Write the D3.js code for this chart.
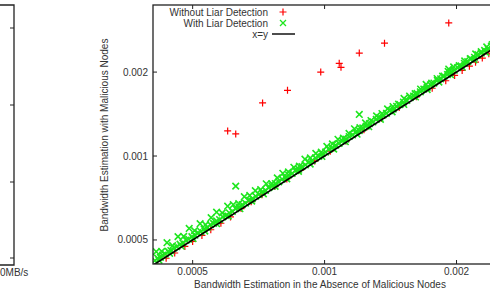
<!DOCTYPE html>
<html>
<head>
<meta charset="utf-8">
<script src="https://cdnjs.cloudflare.com/ajax/libs/d3/7.8.5/d3.min.js"></script>
<style>
  body { margin: 0; background: #fff; }
  svg { display: block; font-family: "Liberation Sans", Arial, sans-serif; }
</style>
</head>
<body>
<div id="chart"></div>
<script>
// ticks
var xTicks = [0.0005, 0.001, 0.002];
var yTicks = [0.0005, 0.001, 0.002];
var xTickLabels = ['0.0005', '0.001', '0.002'];
var yTickLabels = ['0.0005', '0.001', '0.002'];

// "Without Liar Detection" (red +)
var redX = [4.15e-4, 4.35e-4, 4.55e-4, 4.80e-4, 5.00e-4, 5.25e-4, 5.50e-4, 5.80e-4, 6.10e-4, 6.45e-4, 6.80e-4,
            7.20e-4, 7.70e-4, 8.20e-4, 8.80e-4, 9.50e-4, 10.30e-4, 11.20e-4, 12.30e-4, 13.50e-4, 14.80e-4,
            16.20e-4, 17.60e-4, 18.90e-4, 19.80e-4, 20.60e-4, 21.40e-4, 22.10e-4, 22.90e-4, 23.70e-4, 24.40e-4,
            6.01e-4, 6.27e-4, 7.22e-4, 8.23e-4, 9.80e-4, 10.8e-4, 10.9e-4, 12.0e-4, 13.7e-4, 19.2e-4];
var redY = [4.09e-4, 4.30e-4, 4.49e-4, 4.74e-4, 4.94e-4, 5.19e-4, 5.44e-4, 5.74e-4, 6.05e-4, 6.48e-4, 6.85e-4,
            7.26e-4, 7.77e-4, 8.28e-4, 8.88e-4, 9.59e-4, 10.40e-4, 11.31e-4, 12.42e-4, 13.63e-4, 14.94e-4,
            16.30e-4, 17.50e-4, 18.62e-4, 19.45e-4, 20.26e-4, 21.00e-4, 21.70e-4, 22.45e-4, 23.25e-4, 23.90e-4,
            12.3e-4, 12.0e-4, 15.5e-4, 17.2e-4, 20.0e-4, 21.5e-4, 20.8e-4, 23.4e-4, 25.4e-4, 30.0e-4];

// "With Liar Detection" (green x)
var greenX = [4.10e-4, 4.16e-4, 4.22e-4, 4.27e-4, 4.33e-4, 4.40e-4, 4.46e-4, 4.53e-4, 4.60e-4, 4.68e-4, 4.75e-4,
  4.83e-4, 4.90e-4, 4.98e-4, 5.06e-4, 5.14e-4, 5.22e-4, 5.31e-4, 5.40e-4, 5.49e-4, 5.58e-4, 5.67e-4, 5.76e-4,
  5.86e-4, 5.96e-4, 6.06e-4, 6.16e-4, 6.27e-4, 6.38e-4, 6.49e-4, 6.60e-4, 6.72e-4, 6.84e-4, 6.96e-4, 7.08e-4,
  7.20e-4, 7.33e-4, 7.46e-4, 7.59e-4, 7.72e-4, 7.86e-4, 8.00e-4, 8.14e-4, 8.28e-4, 8.43e-4, 8.58e-4, 8.73e-4,
  8.88e-4, 9.04e-4, 9.20e-4, 9.36e-4, 9.53e-4, 9.70e-4, 9.87e-4, 10.05e-4, 10.23e-4, 10.41e-4, 10.60e-4,
  10.79e-4, 10.98e-4, 11.18e-4, 11.38e-4, 11.58e-4, 11.79e-4, 12.00e-4, 12.22e-4, 12.44e-4, 12.66e-4, 12.89e-4,
  13.12e-4, 13.36e-4, 13.60e-4, 13.84e-4, 14.09e-4, 14.34e-4, 14.60e-4, 14.86e-4, 15.13e-4, 15.40e-4, 15.68e-4,
  15.96e-4, 16.25e-4, 16.54e-4, 16.84e-4, 17.14e-4, 17.45e-4, 17.76e-4, 18.08e-4, 18.40e-4, 18.73e-4, 19.07e-4,
  19.41e-4, 19.76e-4, 20.11e-4, 20.47e-4, 20.84e-4, 21.21e-4, 21.59e-4, 21.98e-4, 22.37e-4, 22.77e-4, 23.18e-4,
  23.60e-4, 24.02e-4, 24.45e-4,
  4.13e-4, 4.25e-4, 4.37e-4, 4.50e-4, 4.63e-4, 4.77e-4, 4.91e-4, 5.05e-4, 5.20e-4, 5.35e-4, 5.51e-4, 5.67e-4,
  5.84e-4, 6.01e-4, 6.19e-4, 6.37e-4, 6.56e-4, 6.75e-4, 6.95e-4, 7.15e-4, 7.36e-4, 7.58e-4, 7.80e-4, 8.03e-4,
  8.27e-4, 8.51e-4, 8.76e-4, 9.02e-4, 9.28e-4, 9.55e-4, 9.83e-4, 10.12e-4, 10.42e-4, 10.73e-4, 11.04e-4,
  11.37e-4, 11.70e-4, 12.04e-4, 12.40e-4, 12.76e-4, 13.14e-4, 13.52e-4, 13.92e-4, 14.33e-4, 14.75e-4, 15.18e-4,
  15.63e-4, 16.09e-4, 16.56e-4, 17.05e-4, 17.55e-4, 18.06e-4, 18.59e-4, 19.14e-4, 19.70e-4, 20.28e-4, 20.88e-4,
  21.49e-4, 22.12e-4, 22.77e-4, 23.44e-4, 24.13e-4,
  4.19e-4, 4.43e-4, 4.71e-4, 5.01e-4, 5.33e-4, 5.67e-4, 6.03e-4, 6.41e-4, 6.82e-4, 7.25e-4, 7.71e-4, 8.20e-4,
  8.72e-4, 9.27e-4, 9.86e-4, 10.49e-4, 11.15e-4, 11.86e-4, 12.61e-4, 13.41e-4, 14.26e-4, 15.16e-4, 16.12e-4,
  17.14e-4, 18.23e-4, 19.38e-4, 20.61e-4, 21.92e-4, 23.31e-4, 24.79e-4,
  6.27e-4, 12.0e-4, 19.2e-4];
var greenY = [4.22e-4, 4.30e-4, 4.33e-4, 4.41e-4, 4.45e-4, 4.55e-4, 4.58e-4, 4.68e-4, 4.73e-4, 4.83e-4, 4.88e-4,
  4.99e-4, 5.03e-4, 5.14e-4, 5.20e-4, 5.31e-4, 5.36e-4, 5.48e-4, 5.55e-4, 5.67e-4, 5.73e-4, 5.85e-4, 5.92e-4,
  6.05e-4, 6.12e-4, 6.26e-4, 6.33e-4, 6.47e-4, 6.56e-4, 6.70e-4, 6.78e-4, 6.94e-4, 7.03e-4, 7.18e-4, 7.28e-4,
  7.43e-4, 7.53e-4, 7.70e-4, 7.80e-4, 7.97e-4, 8.08e-4, 8.26e-4, 8.37e-4, 8.55e-4, 8.66e-4, 8.86e-4, 8.97e-4,
  9.17e-4, 9.29e-4, 9.50e-4, 9.62e-4, 9.84e-4, 9.97e-4, 10.19e-4, 10.33e-4, 10.56e-4, 10.70e-4, 10.94e-4,
  11.09e-4, 11.33e-4, 11.49e-4, 11.75e-4, 11.90e-4, 12.17e-4, 12.34e-4, 12.61e-4, 12.79e-4, 13.07e-4, 13.25e-4,
  13.54e-4, 13.73e-4, 14.04e-4, 14.23e-4, 14.54e-4, 14.74e-4, 15.07e-4, 15.28e-4, 15.62e-4, 15.83e-4, 16.18e-4,
  16.41e-4, 16.77e-4, 17.00e-4, 17.38e-4, 17.62e-4, 18.01e-4, 18.26e-4, 18.66e-4, 18.92e-4, 19.33e-4, 19.60e-4,
  20.03e-4, 20.31e-4, 20.76e-4, 21.04e-4, 21.51e-4, 21.80e-4, 22.28e-4, 22.60e-4, 23.09e-4, 23.41e-4, 23.92e-4,
  24.26e-4, 24.79e-4, 25.14e-4,
  4.54e-4, 4.55e-4, 4.89e-4, 4.77e-4, 5.14e-4, 5.15e-4, 5.50e-4, 5.40e-4, 5.72e-4, 5.67e-4, 6.01e-4, 6.29e-4,
  6.25e-4, 6.61e-4, 6.69e-4, 6.75e-4, 7.15e-4, 7.22e-4, 7.51e-4, 7.58e-4, 7.95e-4, 7.96e-4, 8.35e-4, 8.67e-4,
  8.77e-4, 9.11e-4, 9.20e-4, 9.74e-4, 9.84e-4, 10.22e-4, 10.32e-4, 10.83e-4, 11.05e-4, 11.48e-4, 11.59e-4,
  12.05e-4, 12.52e-4, 12.64e-4, 13.14e-4, 13.40e-4, 13.93e-4, 14.20e-4, 14.76e-4, 15.05e-4, 15.34e-4, 16.09e-4,
  16.41e-4, 16.73e-4, 17.39e-4, 18.07e-4, 18.25e-4, 18.96e-4, 19.33e-4, 20.10e-4, 20.88e-4, 21.09e-4, 21.92e-4,
  22.35e-4, 23.23e-4, 23.68e-4, 24.61e-4, 25.10e-4,
  4.23e-4, 4.48e-4, 4.75e-4, 5.06e-4, 5.38e-4, 5.72e-4, 6.09e-4, 6.47e-4, 6.89e-4, 7.32e-4, 7.79e-4, 8.28e-4,
  8.81e-4, 9.36e-4, 9.96e-4, 10.59e-4, 11.26e-4, 11.98e-4, 12.74e-4, 13.54e-4, 14.40e-4, 15.31e-4, 16.28e-4,
  17.31e-4, 18.41e-4, 19.57e-4, 20.82e-4, 22.14e-4, 23.54e-4, 25.04e-4,
  7.8e-4, 14.1e-4, 20.5e-4];

// x=y reference line end points
var lineX = [4.0e-4, 26.0e-4];

var W = 490, H = 293;
var mLeft = 153, mTop = 5, mRight = 499, mBottom = 264;

var svg = d3.select('#chart').append('svg')
  .attr('width', W)
  .attr('height', H);

var x = d3.scaleLog().domain([4.06e-4, 25.0e-4]).range([mLeft, mRight]);
var y = d3.scaleLog().domain([4.10e-4, 34.8e-4]).range([mBottom, mTop]);

var red = '#ff0000', green = '#1ee61e';

// left, cut-off neighbour chart frame
svg.append('path')
  .attr('d', 'M-5,5 H14 V265 H-5')
  .attr('fill', 'none').attr('stroke', '#222').attr('stroke-width', 1.3);
[28, 105, 182, 258].forEach(function(t){
  svg.append('line').attr('x1', 14).attr('x2', 10).attr('y1', t).attr('y2', t)
    .attr('stroke', '#222').attr('stroke-width', 1);
});
svg.append('text').attr('x', 0).attr('y', 276).attr('font-size', 10).attr('fill', '#333').text('0MB/s');

svg.append('clipPath').attr('id', 'clip')
  .append('rect').attr('x', mLeft).attr('y', mTop).attr('width', mRight - mLeft).attr('height', mBottom - mTop);
var plot = svg.append('g').attr('clip-path', 'url(#clip)');

// red +
var redData = redX.map(function(d, i){ return [d, redY[i]]; });
plot.selectAll('.red').data(redData).enter().append('path')
  .attr('class', 'red')
  .attr('d', function(d){
    var px = x(d[0]), py = y(d[1]);
    return 'M' + (px - 3.5) + ',' + py + 'H' + (px + 3.5) + 'M' + px + ',' + (py - 3.5) + 'V' + (py + 3.5);
  })
  .attr('stroke', red).attr('stroke-width', 1.2).attr('fill', 'none');

// green x
var greenData = greenX.map(function(d, i){ return [d, greenY[i]]; });
plot.selectAll('.green').data(greenData).enter().append('path')
  .attr('class', 'green')
  .attr('d', function(d){
    var px = x(d[0]), py = y(d[1]);
    return 'M' + (px - 3.3) + ',' + (py - 3.3) + 'L' + (px + 3.3) + ',' + (py + 3.3) +
           'M' + (px - 3.3) + ',' + (py + 3.3) + 'L' + (px + 3.3) + ',' + (py - 3.3);
  })
  .attr('stroke', green).attr('stroke-width', 1.6).attr('fill', 'none');

// x=y
plot.append('line')
  .attr('x1', x(lineX[0])).attr('y1', y(lineX[0]))
  .attr('x2', x(lineX[1])).attr('y2', y(lineX[1]))
  .attr('stroke', '#000').attr('stroke-width', 1.6);

// frame
svg.append('rect').attr('x', mLeft).attr('y', mTop).attr('width', mRight - mLeft + 10).attr('height', mBottom - mTop)
  .attr('fill', 'none').attr('stroke', '#222').attr('stroke-width', 1.3);

// ticks (inward, mirrored on top)
xTicks.forEach(function(t, i){
  var px = x(t);
  svg.append('line').attr('x1', px).attr('x2', px).attr('y1', mBottom).attr('y2', mBottom - 4).attr('stroke', '#222');
  svg.append('line').attr('x1', px).attr('x2', px).attr('y1', mTop).attr('y2', mTop + 4).attr('stroke', '#222');
  svg.append('text').attr('x', px).attr('y', 275).attr('text-anchor', 'middle')
    .attr('font-size', 10).attr('fill', '#333').text(xTickLabels[i]);
});
yTicks.forEach(function(t, i){
  var py = y(t);
  svg.append('line').attr('x1', mLeft).attr('x2', mLeft + 4).attr('y1', py).attr('y2', py).attr('stroke', '#222');
  svg.append('text').attr('x', 148).attr('y', py + 3.5).attr('text-anchor', 'end')
    .attr('font-size', 10).attr('fill', '#333').text(yTickLabels[i]);
});

// axis labels
svg.append('text').attr('x', 320).attr('y', 288).attr('text-anchor', 'middle')
  .attr('font-size', 10).attr('fill', '#333')
  .text('Bandwidth Estimation in the Absence of Malicious Nodes');
svg.append('text').attr('transform', 'translate(108,135) rotate(-90)').attr('text-anchor', 'middle')
  .attr('font-size', 10).attr('fill', '#333')
  .text('Bandwidth Estimation with Malicious Nodes');

// legend
var legend = [
  {label: 'Without Liar Detection', type: 'plus'},
  {label: 'With Liar Detection', type: 'cross'},
  {label: 'x=y', type: 'line'}
];
legend.forEach(function(l, i){
  var ly = 12 + i * 11;
  svg.append('text').attr('x', 268).attr('y', ly + 3.5).attr('text-anchor', 'end')
    .attr('font-size', 10).attr('fill', '#333').text(l.label);
  if (l.type === 'plus') {
    svg.append('path').attr('d', 'M279.5,' + ly + 'H286.5M283,' + (ly - 3.5) + 'V' + (ly + 3.5))
      .attr('stroke', red).attr('stroke-width', 1.2);
  } else if (l.type === 'cross') {
    svg.append('path').attr('d', 'M280,' + (ly - 3) + 'L286,' + (ly + 3) + 'M280,' + (ly + 3) + 'L286,' + (ly - 3))
      .attr('stroke', green).attr('stroke-width', 1.3);
  } else {
    svg.append('line').attr('x1', 272).attr('x2', 295).attr('y1', ly).attr('y2', ly)
      .attr('stroke', '#000').attr('stroke-width', 1.4);
  }
});
</script>
</body>
</html>
